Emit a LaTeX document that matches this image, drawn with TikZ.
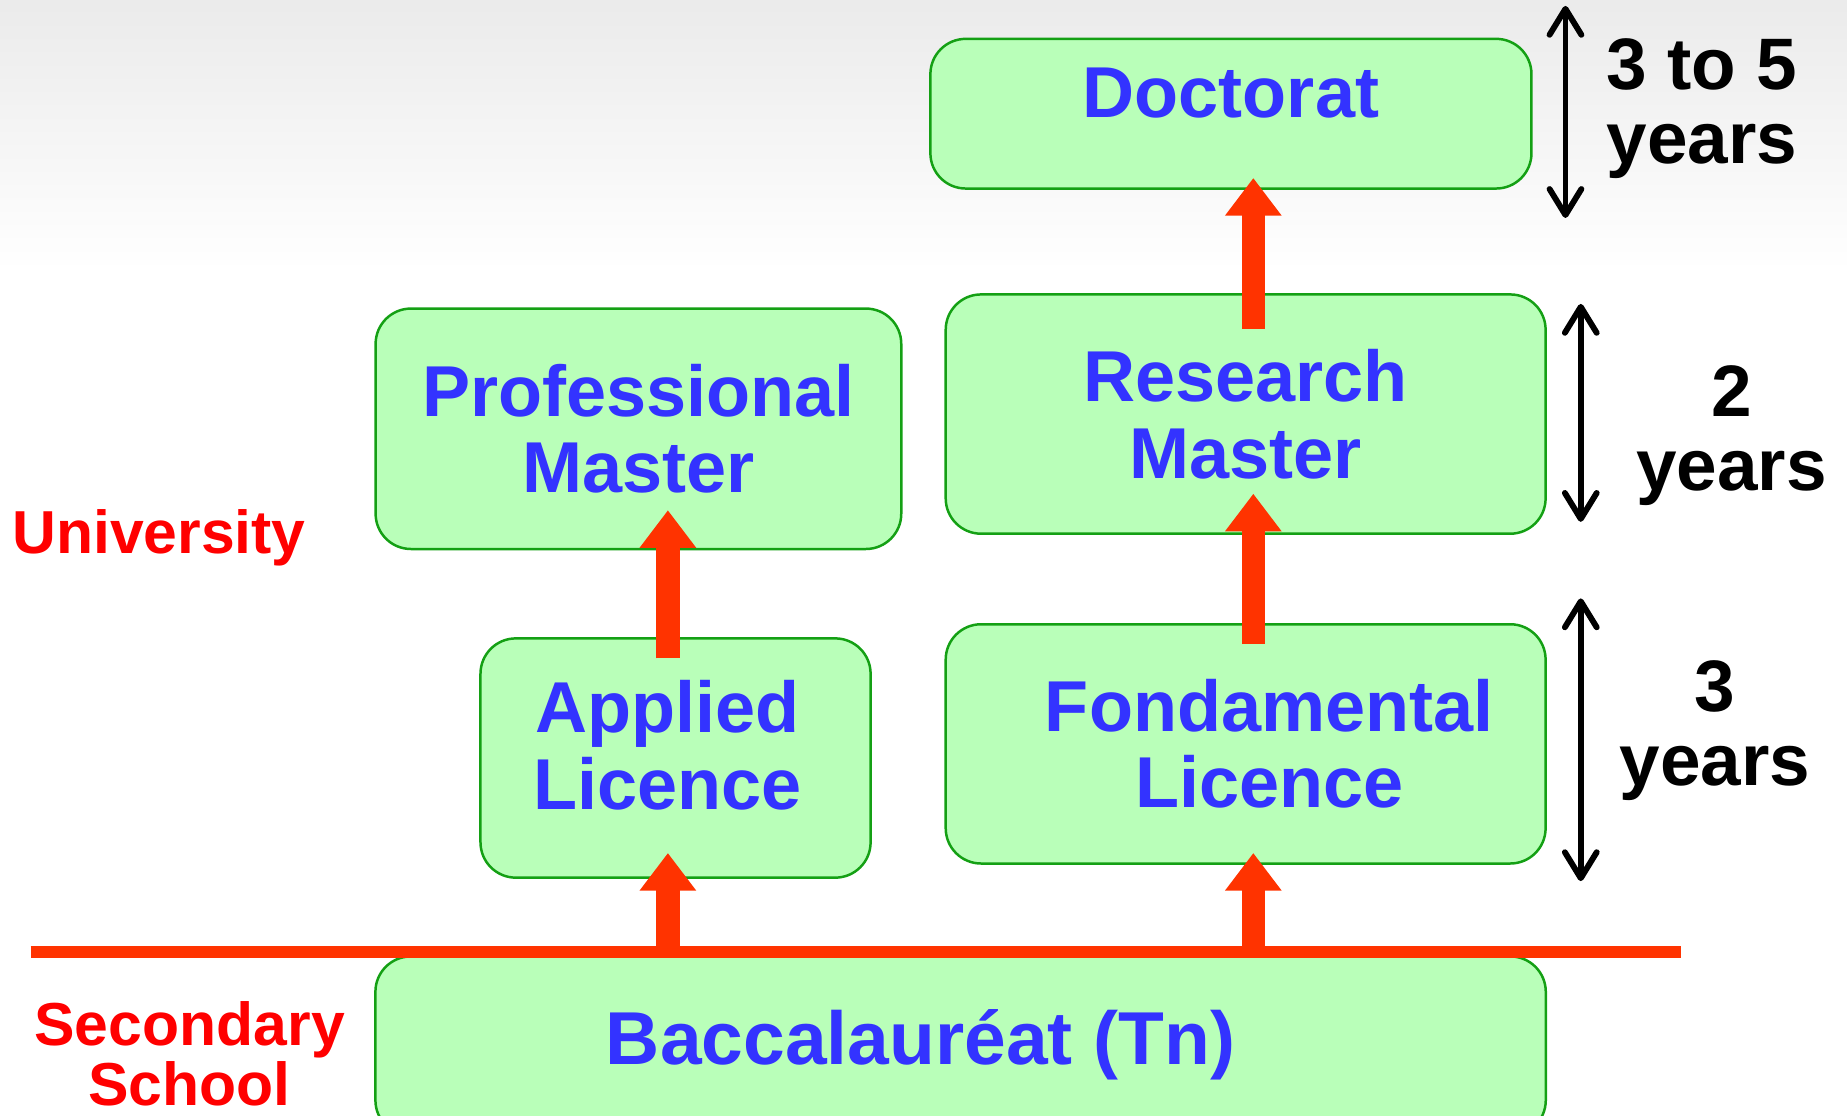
\documentclass[tikz,border=0pt]{standalone}
\usepackage{fontspec}
\setmainfont{Liberation Sans}
\usetikzlibrary{arrows.meta}
\usetikzlibrary{calc}
\usetikzlibrary{positioning}

\definecolor{boxgreen}{HTML}{B9FFB9}
\definecolor{edgegreen}{HTML}{14A014}
\definecolor{textblue}{HTML}{3333FF}
\definecolor{arrowred}{HTML}{FF3300}
\definecolor{labelred}{HTML}{FF0000}

\begin{document}
\begin{tikzpicture}[x=0.01cm, y=-0.01cm,
        level/.style={draw=edgegreen, line width=0.6pt, fill=boxgreen, rounded corners=0.3cm,
            text=textblue, font=\fontsize{17.4pt}{18.5pt}\selectfont\bfseries, align=center, inner sep=0pt},
        up/.style={arrowred, line width=0.2cm, -{Triangle[width=0.46cm,length=0.32cm]}},
        span/.style={black, line width=0.05cm,
            {Straight Barb[length=0.22cm,width=0.27cm,round]}-{Straight Barb[length=0.22cm,width=0.27cm,round]}},
        years/.style={font=\fontsize{17.6pt}{17.9pt}\selectfont\bfseries, align=center},
        stage/.style={text=labelred, font=\fontsize{14.65pt}{14.5pt}\selectfont\bfseries, align=center}]

    \useasboundingbox (0,0) rectangle (1568,947);
    \clip (0,0) rectangle (1568,947);
    \shade[top color=black!8, bottom color=white] (0,0) rectangle (1568,230); % Background

    % Levels
    \node[level, minimum width=5.1cm, minimum height=1.27cm, text height=0.67cm, text depth=0.6cm]
        (doc) at (1045,96.5) {Doctorat};
    \node[level, minimum width=5.09cm, minimum height=2.03cm] (rm) at (1057.5,351.5) {Research\\Master};
    \node[level, minimum width=4.46cm, minimum height=2.04cm] (pm) at (542,364) {Professional\\Master};
    \node[level, minimum width=3.31cm, text height=1.45cm, text depth=0.58cm]
        (al) at (573.5,643.5) {Applied\hspace*{0.14cm}\\Licence\hspace*{0.14cm}};
    \node[level, minimum width=5.09cm, minimum height=2.03cm]
        (fl) at (1057.5,631.5) {\hspace*{0.4cm}Fondamental\\\hspace*{0.4cm}Licence};
    \node[level, minimum width=9.93cm, text height=0.92cm, text depth=0.6cm, font=\fontsize{18.1pt}{19pt}\selectfont\bfseries]
        (bac) at (815.5,888) {Baccalauréat (Tn)\hspace*{0.68cm}};

    % Border between school and university
    \coordinate (secL) at (26,808);
    \coordinate (secR) at (1427,808);
    \draw[arrowred, line width=0.1cm] (secL) -- (secR);

    % Red arrows
    \coordinate (lcol) at (567,0);
    \coordinate (rcol) at (1064,0);
    \draw[up] (lcol |- secL) -- ($(lcol |- al.south)+(0,-22)$);
    \draw[up] ($(lcol |- al.north)+(0,18)$) -- ($(lcol |- pm.south)+(0,-34)$);
    \draw[up] (rcol |- secL) -- ($(rcol |- fl.south)+(0,-10)$);
    \draw[up] ($(rcol |- fl.north)+(0,18)$) -- ($(rcol |- rm.south)+(0,-35)$);
    \draw[up] ($(rcol |- rm.north)+(0,30)$) -- ($(rcol |- doc.south)+(0,-10)$);

    % Durations
    \coordinate (docT) at (1329,5);
    \coordinate (docB) at (1329,185);
    \coordinate (rmT) at (1342,258);
    \coordinate (rmB) at (1342,443);
    \coordinate (flT) at (1342,508);
    \coordinate (flB) at (1342,748);
    \draw[span] (docT) -- (docB);
    \draw[span] (rmT) -- (rmB);
    \draw[span] (flT) -- (flB);
    \node[years] (y35) at (1445,92) {3 to 5\\years};
    \node[years] (y2) at (1470,370) {2\\years};
    \node[years] (y3) at (1456,620) {3\\years};

    % Labels
    \node[stage, anchor=base] (uni) at (135,470) {University};
    \node[stage] (sec) at (161,895) {Secondary\\School};
\end{tikzpicture}
\end{document}
